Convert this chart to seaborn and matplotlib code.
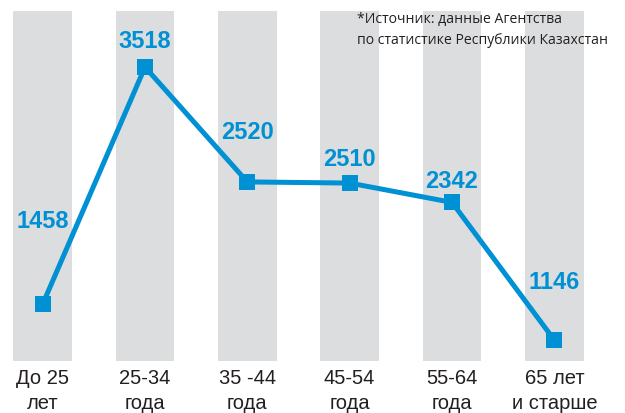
import matplotlib
matplotlib.use("Agg")
import matplotlib.pyplot as plt
import seaborn as sns
import pandas as pd

# data
age_groups = ["До 25\nлет", "25-34\nгода", "35 -44\nгода", "45-54\nгода", "55-64\nгода", "65 лет\nи старше"]
counts = [1458, 3518, 2520, 2510, 2342, 1146]
source_note = "*Источник: данные Агентства\nпо статистике Республики Казахстан"

# label offsets above the markers (points), layout only
label_offsets = [51, 10, 27, 9, 7, 33]

blue = "#0090d4"
band_gray = "#dcddde"
text_dark = "#231f20"

sns.set_style("white")
plt.rcParams['font.family'] = ['Liberation Sans', 'DejaVu Sans']

df = pd.DataFrame({"pos": range(len(age_groups)), "count": counts})

fig = plt.figure(figsize=(6.25, 4.13), dpi=100)
ax = fig.add_axes([13 / 625, 1 - 361 / 413, 571 / 625, 350 / 413])

ax.set_xlim(-0.29, len(age_groups) - 1 + 0.29)
ax.set_ylim(964, 4005)

# gray background bands behind each category
for i in df["pos"]:
    ax.axvspan(i - 0.2875, i + 0.2875, color=band_gray, lw=0, zorder=0)

sns.lineplot(data=df, x="pos", y="count", ax=ax, color=blue, lw=3.6,
             marker="s", markersize=12, markeredgewidth=0, zorder=3)

for i, v in enumerate(counts):
    ax.annotate(str(v), (i, v), xytext=(0, label_offsets[i]), textcoords="offset points",
                ha="center", va="bottom", color=blue, fontsize=17, fontweight="bold")

ax.set_xticks(df["pos"])
ax.set_xticklabels(age_groups, fontsize=14.5, color=text_dark, linespacing=1.4,
                   family=['Liberation Sans Narrow', 'Liberation Sans', 'DejaVu Sans'])
ax.tick_params(axis="x", length=0, pad=6)
ax.set_yticks([])
ax.set_xlabel("")
ax.set_ylabel("")
for s in ax.spines.values():
    s.set_visible(False)

fig.text(357 / 625, 1 - 12 / 413, source_note, ha="left", va="top", fontsize=10.1,
         color=text_dark, linespacing=1.5, family=['Open Sans', 'DejaVu Sans'])

fig.savefig("out.png", dpi=100)
